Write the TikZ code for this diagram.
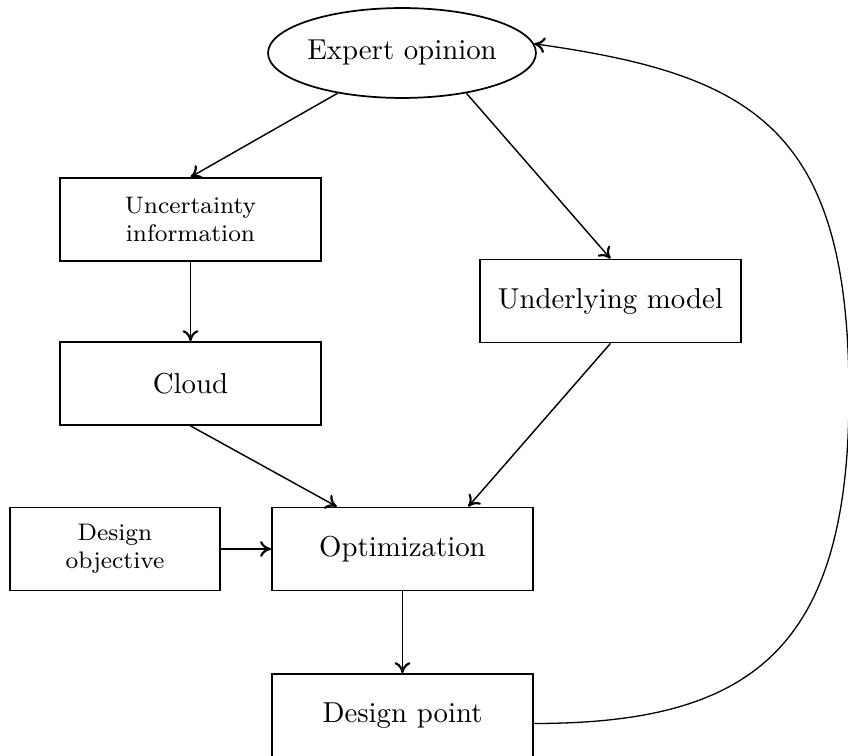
\documentclass[tikz,border=0pt]{standalone}
\usetikzlibrary{shapes.geometric,arrows.meta,calc}
\begin{document}
\begin{tikzpicture}[x=0.347pt,y=-0.347pt,
  box/.style={draw,line width=0.6pt,minimum width=90.6pt,minimum height=28.8pt,inner sep=0pt,align=center},
  ell/.style={draw,ellipse,line width=0.6pt,minimum width=89.5pt,minimum height=31.2pt,inner sep=0pt},
  smalltext/.style={font=\fontsize{8.3}{9.8}\selectfont},
  conn/.style={line width=0.5pt,-{To[length=3.8pt,width=5.5pt,line width=0.75pt]}}]
\useasboundingbox (0,0) rectangle (848,756);
\node[ell] (expert) at (402,53) {Expert opinion};
\node[box,smalltext] (unc) at (190.5,219.5) {Uncertainty\\information};
\node[box] (cloud) at (190.5,383.5) {Cloud};
\node[box] (under) at (610.5,301) {Underlying model};
\node[box] (opt) at (402.5,549) {Optimization};
\node[box,smalltext,minimum width=72.8pt] (obj) at (115,549) {Design\\objective};
\node[box] (dp) at (402.5,715.5) {Design point};
\coordinate (loop) at (849,395);
\draw[conn] (expert.212) -- (unc.north);
\draw[conn] (expert.-32) -- (under.north);
\draw[conn] (unc) -- (cloud);
\draw[conn] (cloud.south) -- ($(opt.north west)!0.25!(opt.north east)$);
\draw[conn] (under.south) -- ($(opt.north west)!0.75!(opt.north east)$);
\draw[conn] (obj) -- (opt);
\draw[conn] (opt) -- (dp);
\draw[conn,line width=0.45pt] ($(dp.east)+(0,8)$) to[out=0,in=-90,out looseness=1.2,in looseness=1.45] (loop) to[out=90,in=-8,out looseness=1.45,in looseness=1.2] (expert.4);
\end{tikzpicture}
\end{document}
